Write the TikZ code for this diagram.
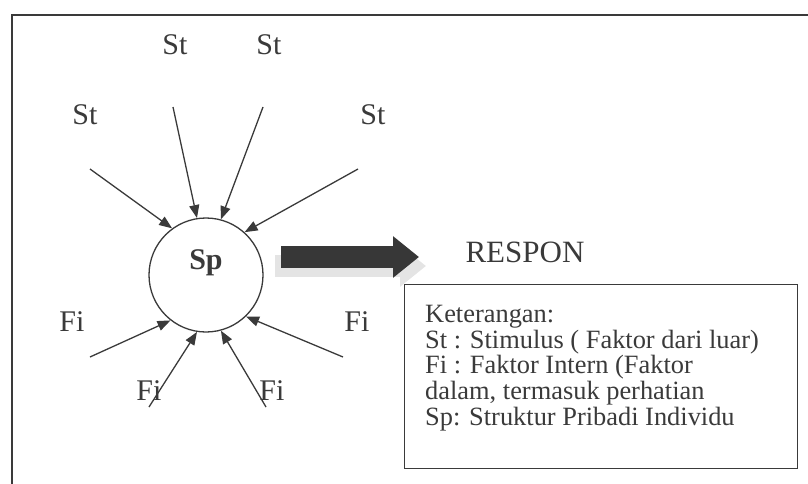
\documentclass[tikz,border=0pt]{standalone}
\usepackage{fontspec}
\setmainfont{Liberation Serif}
\usetikzlibrary{arrows.meta}
\definecolor{ink}{HTML}{3A3A3A}
\definecolor{shade}{HTML}{E4E4E4}
\begin{document}
\begin{tikzpicture}[x=1pt,y=-1pt,
  lbl/.style={font=\fontsize{30}{30}\selectfont, inner sep=0pt, text=ink},
  inarrow/.style={draw=ink, line width=1.3pt, -{Triangle[length=13pt,width=10pt]}},
  bigarrow/.style={line width=22pt, -{Triangle[length=26pt,width=40pt]}},
  legendfont/.style={font=\fontsize{26.4}{25.75}\selectfont, inner sep=0pt, text=ink}]
\useasboundingbox (0,0) rectangle (808,484);
% outer frame (open at right and bottom)
\draw[line width=2pt, draw=ink] (12,490) -- (12,15) -- (815,15);

% central circle
\node[circle, draw=ink, line width=1.3pt, minimum size=114pt, inner sep=0pt] (sp) at (206,275) {};
\node[lbl, font=\fontsize{30}{30}\selectfont\bfseries] (sptext) at (206,263) {Sp};

% labels
\node[lbl] (st1) at (175,45) {St};
\node[lbl] (st2) at (269,45) {St};
\node[lbl] (st3) at (85,115) {St};
\node[lbl] (st4) at (373,115) {St};
\node[lbl] (fi1) at (72,322) {Fi};
\node[lbl] (fi2) at (357,322) {Fi};
\node[lbl] (fi3) at (149,391) {Fi};
\node[lbl] (fi4) at (272,391) {Fi};

% arrow start points
\coordinate (s1) at (90,169);
\coordinate (s2) at (173,107);
\coordinate (s3) at (263,107);
\coordinate (s4) at (358,169);
\coordinate (f1) at (90,357);
\coordinate (f2) at (149,407);
\coordinate (f3) at (266,407);
\coordinate (f4) at (343,357);

\draw[inarrow] (s1) -- (sp.126);
\draw[inarrow] (s2) -- (sp.99);
\draw[inarrow] (s3) -- (sp.75);
\draw[inarrow] (s4) -- (sp.48);
\draw[inarrow] (f1) -- (sp.-128);
\draw[inarrow] (f2) -- (sp.-99);
\draw[inarrow] (f3) -- (sp.-75);
\draw[inarrow] (f4) -- (sp.-46);

% big response arrow
\coordinate (ba) at (281,257);
\coordinate (bb) at (419,257);
\coordinate (bas) at (275,266);
\coordinate (bbs) at (426,266);
\draw[bigarrow, draw=shade, fill=shade] (bas) -- (bbs);
\draw[bigarrow, draw=ink!95!black, fill=ink!95!black] (ba) -- (bb);

\node[lbl, font=\fontsize{31}{31}\selectfont] (respon) at (525,252) {RESPON};

% legend
\node[draw=ink, line width=1.3pt, minimum width=393pt, minimum height=184pt, inner sep=0pt, anchor=north west] (legend) at (404,284) {};
\node[legendfont, anchor=north west, align=left] (legendtext) at (425,305)
  {Keterangan:\\
   St : Stimulus ( Faktor dari luar)\\
   Fi : Faktor Intern (Faktor\\
   dalam, termasuk perhatian\\
   Sp: Struktur Pribadi Individu};
\end{tikzpicture}
\end{document}
